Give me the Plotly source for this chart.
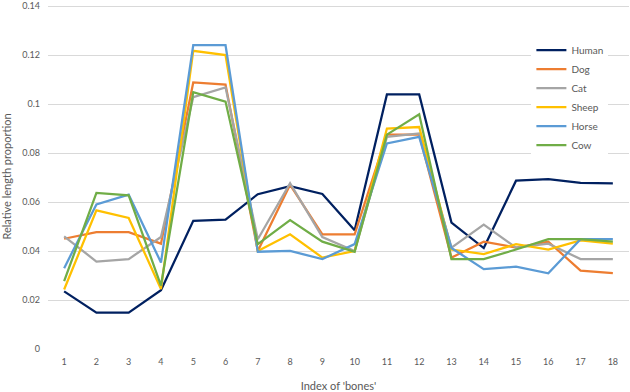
import plotly.graph_objects as go

bones = list(range(1, 19))
human = [0.0235, 0.0148, 0.0148, 0.0240, 0.0523, 0.0528, 0.0632, 0.0665, 0.0633, 0.0485, 0.1039, 0.1039, 0.0516, 0.0412, 0.0687, 0.0693, 0.0678, 0.0676]
dog   = [0.0450, 0.0477, 0.0477, 0.0430, 0.1088, 0.1079, 0.0400, 0.0670, 0.0468, 0.0468, 0.0875, 0.0875, 0.0373, 0.0438, 0.0414, 0.0438, 0.0320, 0.0310]
cat   = [0.0460, 0.0357, 0.0367, 0.0457, 0.1028, 0.1068, 0.0448, 0.0677, 0.0457, 0.0400, 0.0866, 0.0880, 0.0414, 0.0508, 0.0414, 0.0430, 0.0367, 0.0367]
sheep = [0.0243, 0.0566, 0.0535, 0.0245, 0.1217, 0.1200, 0.0400, 0.0468, 0.0373, 0.0400, 0.0900, 0.0906, 0.0406, 0.0387, 0.0428, 0.0406, 0.0443, 0.0430]
horse = [0.0330, 0.0590, 0.0630, 0.0353, 0.1240, 0.1240, 0.0397, 0.0400, 0.0367, 0.0428, 0.0839, 0.0866, 0.0412, 0.0326, 0.0336, 0.0309, 0.0448, 0.0448]
cow   = [0.0277, 0.0637, 0.0627, 0.0259, 0.1048, 0.1010, 0.0428, 0.0526, 0.0438, 0.0397, 0.0875, 0.0958, 0.0367, 0.0367, 0.0406, 0.0448, 0.0448, 0.0438]

series = [
    ("Human", human, "#002060"),
    ("Dog", dog, "#ED7D31"),
    ("Cat", cat, "#A5A5A5"),
    ("Sheep", sheep, "#FFC000"),
    ("Horse", horse, "#5B9BD5"),
    ("Cow", cow, "#70AD47"),
]

ytick_vals = [0, 0.02, 0.04, 0.06, 0.08, 0.1, 0.12, 0.14]
ytick_text = ["0", "0.02", "0.04", "0.06", "0.08", "0.1", "0.12", "0.14"]

fig = go.Figure()
for name, vals, col in series:
    fig.add_trace(go.Scatter(x=bones, y=vals, name=name, mode="lines",
                             line=dict(color=col, width=2.25)))

fig.update_layout(
    width=630, height=392,
    margin=dict(l=48, r=1, t=4, b=43, autoexpand=False),
    paper_bgcolor="white", plot_bgcolor="white",
    font=dict(family="Lato, Open Sans, sans-serif", size=9, color="#595959"),
    legend=dict(x=0.832, y=0.908, xanchor="left", yanchor="top",
                bgcolor="white", font=dict(size=10, color="#595959"),
                tracegroupgap=0, itemwidth=30),
    xaxis=dict(range=[0.5, 18.5], tickvals=bones, ticktext=[str(b) for b in bones],
               showgrid=False, zeroline=False, showline=False, ticks="", automargin=False,
               ticklabelstandoff=6,
               title=dict(text="Index of 'bones'", font=dict(size=11, color="#595959"), standoff=22)),
    yaxis=dict(range=[0, 0.14082], showgrid=True,
               gridcolor="#D9D9D9", gridwidth=1, zeroline=False, showline=False, ticks="",
               tickvals=ytick_vals, ticktext=ytick_text, automargin=False,
               ticklabelstandoff=7, ticklabeloverflow="allow",
               title=dict(text="Relative length proportion", font=dict(size=11, color="#595959"), standoff=12)),
)

fig.write_html("out.html", config={"displayModeBar": False},
               post_script="document.body.style.margin='0';document.body.style.padding='0';")
